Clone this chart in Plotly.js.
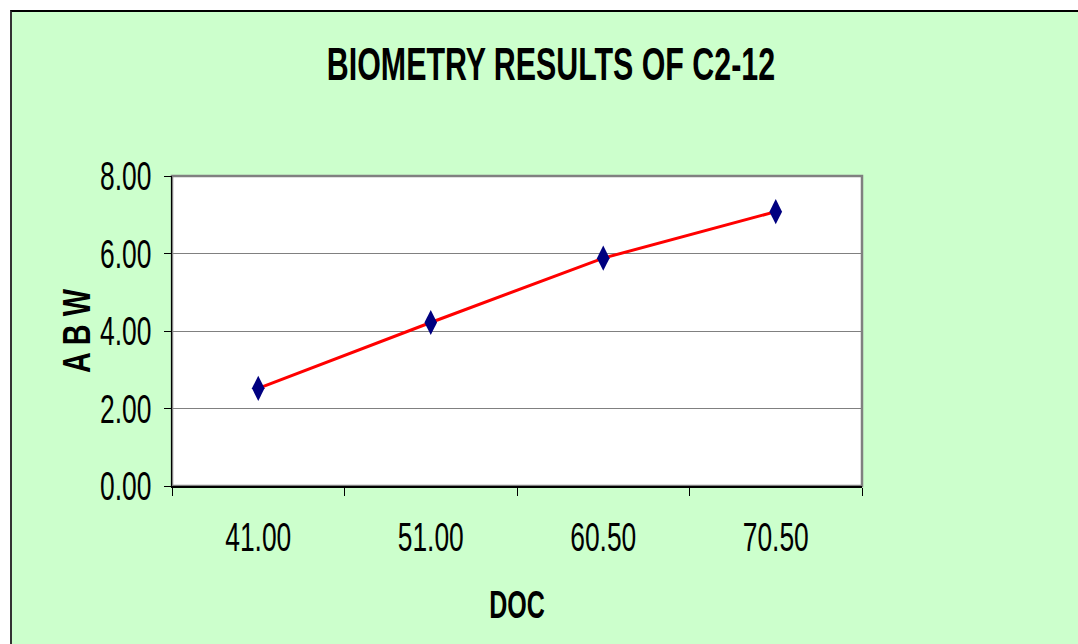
<!DOCTYPE html>
<html>
<head>
<meta charset="utf-8">
<script src="https://cdn.plot.ly/plotly-3.0.1.min.js"></script>
<style>
  html, body { margin: 0; padding: 0; background: #ffffff; width: 1078px; height: 644px; overflow: hidden; }
  #frame { position: absolute; left: 10px; top: 10px; width: 1068px; height: 634px;
           border-left: 2px solid #333333; border-top: 2px solid #000000; background: #CCFFCC; }
  #chart { width: 1066px; height: 632px; }
</style>
</head>
<body>
<div id="frame"><div id="chart"></div></div>
<script>
const categories = ["41.00", "51.00", "60.50", "70.50"];
const abwValues = [2.52, 4.22, 5.88, 7.08];
const yTickValues = [0, 2, 4, 6, 8];
const yTickLabels = ["0.00", "2.00", "4.00", "6.00", "8.00"];
const chartTitle = "BIOMETRY RESULTS OF C2-12";
const xTitle = "DOC";
const yTitle = "A B W";

const font = "Liberation Sans, Arial, sans-serif";
const narrowFactor = 0.66;
const yTitleFactor = 0.74;
const yTitleCenterX = 76;

const trace = {
  type: "scatter",
  mode: "lines+markers",
  x: categories,
  y: abwValues,
  line: { color: "#FF0000", width: 3 },
  marker: { symbol: "diamond-tall", size: 18, color: "#000080", line: { width: 0 } },
  hoverinfo: "skip"
};

const layout = {
  width: 1066,
  height: 632,
  margin: { l: 160, t: 164, r: 216, b: 158, pad: 0 },
  paper_bgcolor: "#CCFFCC",
  plot_bgcolor: "#FFFFFF",
  showlegend: false,
  title: {
    text: chartTitle,
    font: { family: font, size: 46, color: "#000000", weight: "bold" },
    xref: "container", x: 0.5056, xanchor: "center",
    yref: "container", y: 0.918, yanchor: "middle"
  },
  xaxis: {
    type: "category",
    range: [-0.5, 3.5],
    tickson: "boundaries",
    ticks: "outside", ticklen: 8, tickcolor: "#000000", tickwidth: 1,
    showline: true, linecolor: "#000000", linewidth: 1.5,
    showgrid: false, zeroline: false,
    tickfont: { family: font, size: 40, color: "#000000" },
    ticklabelstandoff: 15,
    automargin: false,
    title: { text: xTitle, font: { family: font, size: 38, color: "#000000", weight: "bold" }, standoff: 34 }
  },
  yaxis: {
    range: [0, 8],
    tickvals: yTickValues,
    ticktext: yTickLabels,
    ticks: "outside", ticklen: 7, tickcolor: "#000000", tickwidth: 1,
    showline: true, linecolor: "#000000", linewidth: 1.5,
    showgrid: true, gridcolor: "#808080", gridwidth: 1,
    zeroline: false,
    tickfont: { family: font, size: 40, color: "#000000" },
    ticklabelstandoff: 4,
    automargin: false,
    title: { text: yTitle, font: { family: font, size: 39, color: "#000000", weight: "bold" }, standoff: 10 }
  },
  shapes: [{
    type: "rect", xref: "paper", yref: "paper", x0: 0, x1: 1, y0: 0, y1: 1,
    line: { color: "#808080", width: 2.5 }, layer: "below"
  }]
};

Plotly.newPlot("chart", [trace], layout, { displayModeBar: false, staticPlot: true }).then(function (gd) {
  gd.querySelectorAll("text").forEach(function (t) {
    const len = t.getComputedTextLength();
    if (len > 0) {
      const f = t.classList.contains("ytitle") ? yTitleFactor : narrowFactor;
      t.setAttribute("textLength", (len * f).toFixed(1));
      t.setAttribute("lengthAdjust", "spacingAndGlyphs");
    }
  });
  const yt = gd.querySelector(".g-ytitle");
  if (yt) {
    const r = yt.getBoundingClientRect();
    const dx = yTitleCenterX - (r.left + r.width / 2);
    yt.setAttribute("transform", "translate(" + dx.toFixed(1) + ",0)");
  }
});
</script>
</body>
</html>
